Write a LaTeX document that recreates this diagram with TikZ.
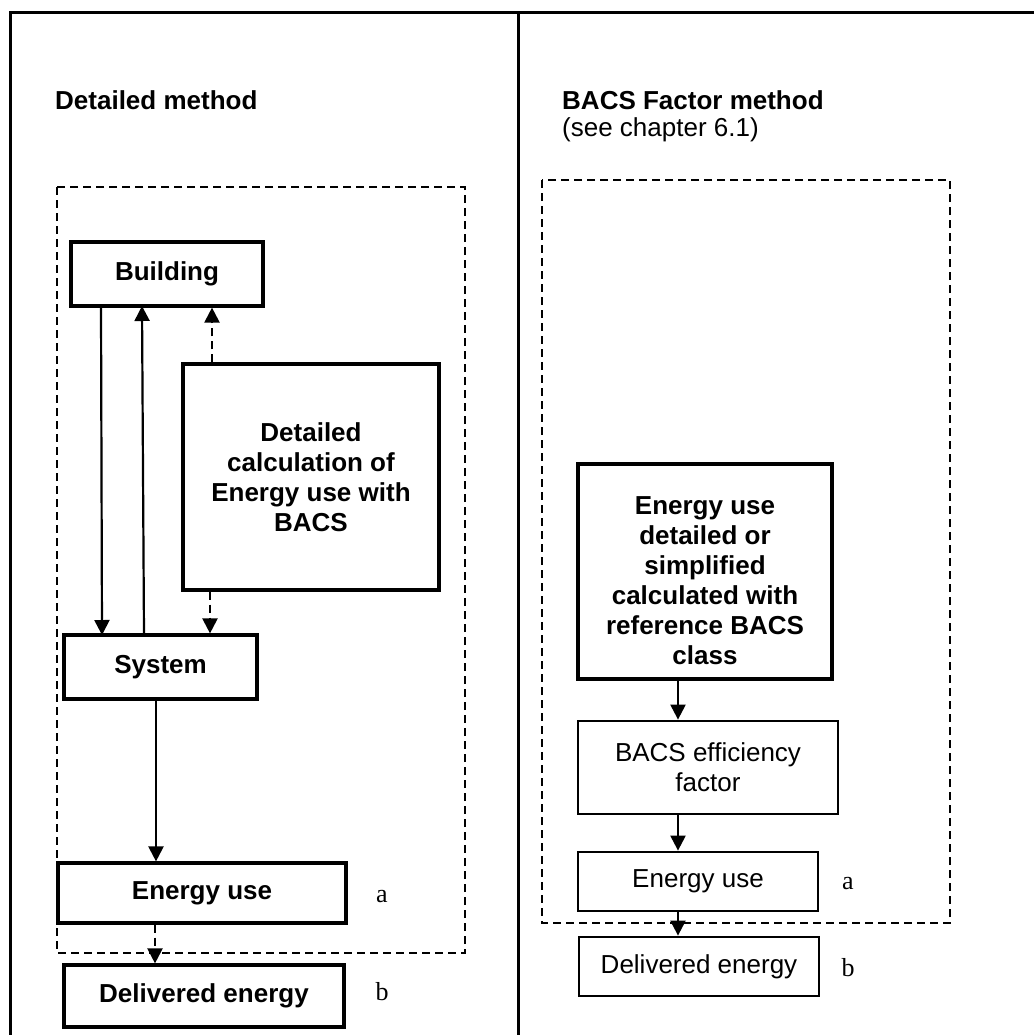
\documentclass[tikz,border=0pt]{standalone}
\usepackage{fontspec}
\setmainfont{Liberation Sans}
\newfontfamily\serifletter{Liberation Serif}
\usetikzlibrary{arrows.meta}
\begin{document}
\begin{tikzpicture}[x=1pt,y=-1pt,
  txt/.style={font=\fontsize{26}{30}\selectfont},
  boldbox/.style={draw,line width=3.2pt,inner sep=0pt,align=center,font=\fontsize{26}{30}\selectfont\bfseries},
  plainbox/.style={draw,line width=2.8pt,inner sep=0pt,align=center,font=\fontsize{26}{30}\selectfont},
  region/.style={draw,line width=2pt,dash pattern=on 8pt off 5pt},
  flow/.style={line width=2.2pt,-{Triangle[length=15pt,width=15pt]}},
  dflow/.style={flow,dash pattern=on 8pt off 5pt},
  letter/.style={font=\serifletter\fontsize{26}{30}\selectfont,inner sep=0pt}
]
\useasboundingbox (0,0) rectangle (1034,1035);
% frame
\draw[line width=3pt] (10,1035) -- (10,12.5) -- (1034,12.5);
\draw[line width=3pt] (518,12.5) -- (518,1035);

% headings
\node[txt,anchor=base west,inner sep=0pt,font=\fontsize{26}{30}\selectfont\bfseries] (h1) at (55,110) {Detailed method};
\node[txt,anchor=base west,inner sep=0pt,font=\fontsize{26}{30}\selectfont\bfseries] (h2) at (562,110) {BACS Factor method};
\node[txt,anchor=base west,inner sep=0pt] (h3) at (562,137) {(see chapter 6.1)};

% left dashed region
\draw[region] (57,187) rectangle (465,953);
% right dashed region
\draw[region] (542,180) rectangle (950,923);

% left nodes
\node[boldbox,minimum width=192pt,minimum height=64pt] (bld) at (167,274) {Building};
\node[boldbox,minimum width=256pt,minimum height=226pt] (calc) at (311,477) {Detailed\\calculation of\\Energy use with\\BACS};
\node[boldbox,minimum width=193pt,minimum height=64pt] (sys) at (160.5,667) {System};
\node[boldbox,minimum width=288pt,minimum height=60pt] (eu1) at (202,893) {Energy use};
\node[boldbox,minimum width=280pt,minimum height=62pt] (de1) at (204,996) {Delivered energy};
\node[letter] (a1) at (382,897) {a};
\node[letter] (b1) at (382,992) {b};

% left connectors
\coordinate (p1) at (101,306);
\coordinate (p2) at (102,635);
\draw[flow] (p1) -- (p2);
\coordinate (p3) at (144,635);
\coordinate (p4) at (142,306);
\draw[flow] (p3) -- (p4);
\draw[dflow] (calc.north -| 212,0) -- (bld.south -| 212,0);
\draw[dflow] (calc.south -| 210,0) -- (sys.north -| 210,0);
\draw[flow] (sys.south -| 156,0) -- (eu1.north -| 156,0);
\draw[dflow] (eu1.south -| 155,0) -- (de1.north -| 155,0);

% right nodes
\node[boldbox,minimum width=254pt,minimum height=215pt] (eref) at (705,571.5) {\raisebox{-12pt}[\height][\depth]{\begin{tabular}{@{}c@{}}Energy use\\detailed or\\simplified\\calculated with\\reference BACS\\class\end{tabular}}};
\node[plainbox,minimum width=260pt,minimum height=93pt] (eff) at (708,767.5) {BACS efficiency\\factor};
\node[plainbox,minimum width=240pt,minimum height=59pt] (eu2) at (698,881.5) {Energy use};
\node[plainbox,minimum width=240pt,minimum height=59pt] (de2) at (699,966.5) {Delivered energy};
\node[letter] (a2) at (848,884) {a};
\node[letter] (b2) at (848,968) {b};

% right connectors
\draw[flow] (eref.south -| 678,0) -- (eff.north -| 678,0);
\draw[flow] (eff.south -| 678,0) -- (eu2.north -| 678,0);
\draw[flow] (eu2.south -| 678,0) -- (de2.north -| 678,0);
\end{tikzpicture}
\end{document}
